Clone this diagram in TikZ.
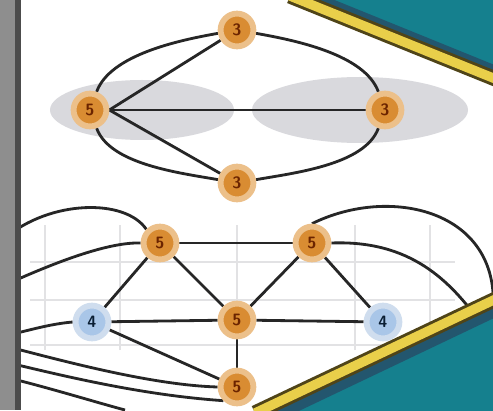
\documentclass[tikz,border=0pt]{standalone}
\usepackage{tikz}
\usetikzlibrary{arrows.meta,positioning,calc,backgrounds}
\definecolor{ink}     {HTML}{262626}
\definecolor{amber}   {HTML}{D98C32}
\definecolor{amberLt} {HTML}{ECC08A}
\definecolor{amberDk} {HTML}{6B2400}
\definecolor{sky}     {HTML}{A9C6E8}
\definecolor{skyLt}   {HTML}{CFDDEE}
\definecolor{navy}    {HTML}{0A1E33}
\definecolor{teal}    {HTML}{15808E}
\definecolor{tealDk}  {HTML}{23566E}
\definecolor{gold}    {HTML}{E9CF4A}
\definecolor{olive}   {HTML}{4F4418}
\definecolor{lensc}   {HTML}{D9D9DD}
\definecolor{gridc}   {HTML}{E2E2E4}
\definecolor{strip}   {HTML}{8E8E8E}
\definecolor{stripDk} {HTML}{4C4C4C}

\begin{document}
\begin{tikzpicture}[
  x=0.3mm, y=0.3mm,
  v/.style={circle, fill=amber, draw=amberLt, line width=5pt, minimum size=28pt, inner sep=0pt,
            font=\sffamily\bfseries\fontsize{14}{14}\selectfont, text=amberDk},
  w/.style={v, fill=sky, draw=skyLt, text=navy},
  e/.style={ink, line width=2.4pt},
  gridln/.style={gridc, line width=1.6pt},
  >=Stealth
]
\useasboundingbox (0,0) rectangle (493,410);
\begin{scope}[on background layer]
  \fill[white] (0,0) rectangle (493,410);
  % shaded lenses of the upper graph
  \fill[lensc] (142,300) ellipse [x radius=92, y radius=30];
  \fill[lensc] (360,300) ellipse [x radius=108, y radius=33];
  % faint grid behind the lower graph
  \foreach \gx in {45,120,237,355,430}{\draw[gridln] (\gx,60) -- (\gx,185);}
  \foreach \gy in {65,110,148}{\draw[gridln] (30,\gy) -- (455,\gy);}
\end{scope}

% upper graph
\node[v] (T)  at (237,380) {3};
\node[v] (Lf) at (90,300)  {5};
\node[v] (Rt) at (385,300) {3};
\node[v] (Bt) at (237,227) {3};
% lower graph
\node[v] (A) at (160,167) {5};
\node[v] (B) at (312,167) {5};
\node[v] (C) at (237,90)  {5};
\node[w] (L) at (92,88)   {4};
\node[w] (R) at (383,88)  {4};
\node[v] (D) at (237,23)  {5};

% free ends off the page
\coordinate (wl1) at (5,172);
\coordinate (wl2) at (5,125);
\coordinate (wl3) at (5,74);
\coordinate (wl4) at (5,64);
\coordinate (wl5) at (5,48);
\coordinate (wl6) at (5,33);
\coordinate (wb)  at (125,0);
\coordinate (wr1) at (493,100);
\coordinate (wr2) at (482,85);

\begin{scope}[on background layer]
  \draw[e] (T) to[out=190,in=70,looseness=0.75] (Lf);
  \draw[e] (Lf) to[out=-70,in=170,looseness=0.75] (Bt);
  \draw[e] (T) to[out=-10,in=110,looseness=0.75] (Rt);
  \draw[e] (Rt) to[out=-110,in=10,looseness=0.75] (Bt);
  \foreach \y in {T,Bt,Rt}{\draw[e] (Lf.east) -- (\y);}
  \foreach \x/\y in {A/B,A/C,B/C,C/L,C/R,C/D,A/L,B/R,L/D}{\draw[e] (\x) -- (\y);}
  \draw[e] (A.north west) .. controls (125,212) and (50,210) .. (wl1);
  \draw[e] (A.west) .. controls (110,168) and (60,150) .. (wl2);
  \draw[e] (L.west) .. controls (50,86) and (30,80) .. (wl3);
  \draw[e] (wl4) .. controls (60,50) and (150,25) .. (D.west);
  \draw[e] (wl5) .. controls (60,35) and (140,15) .. (D.south west);
  \draw[e] (wl6) .. controls (50,22) and (95,8) .. (wb);
  \draw[e] (B.north) .. controls (390,225) and (500,200) .. (wr1);
  \draw[e] (B.east) .. controls (410,170) and (450,130) .. (wr2);
\end{scope}

% corner bands
\fill[teal] (290,414) -- (503,328) -- (503,414) -- cycle;
\draw[tealDk, line width=12pt] (306,414) -- (503,334);
\draw[olive, line width=13pt] (290,414) -- (503,328);
\draw[gold, line width=8pt] (290,414) -- (503,328);
\fill[teal] (255,-3) -- (500,113) -- (500,-3) -- cycle;
\draw[tealDk, line width=12pt] (272,-6) -- (503,104);
\draw[olive, line width=13pt] (255,-3) -- (500,113);
\draw[gold, line width=8pt] (255,-3) -- (500,113);
% left edge strip
\fill[strip] (0,0) rectangle (15,410);
\fill[stripDk] (15,0) rectangle (21,410);
\end{tikzpicture}
\end{document}
